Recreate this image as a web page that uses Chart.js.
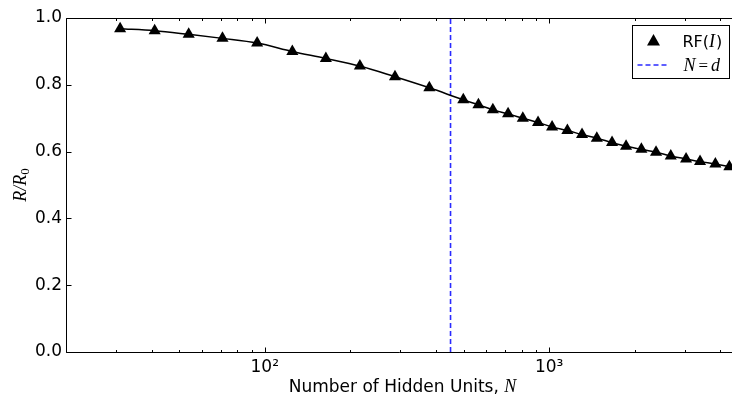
<!DOCTYPE html>
<html>
<head>
<meta charset="utf-8">
<script src="https://cdn.jsdelivr.net/npm/chart.js@4.4.1/dist/chart.umd.min.js"></script>
<style>
  html, body { margin: 0; padding: 0; background: #fff; overflow: hidden; }
  #wrap { width: 732px; height: 396px; }
</style>
</head>
<body>
<div id="wrap"><canvas id="chart" width="732" height="396"></canvas></div>
<script>
// values
const hiddenUnits = [31, 41, 54, 71, 94, 125, 164, 216, 287, 379,
  499, 564, 634, 717, 808, 914, 1024, 1159, 1305, 1471,
  1664, 1864, 2110, 2376, 2677, 3030, 3393, 3841, 4302];
const rfRatio = [0.968, 0.962, 0.951, 0.939, 0.925, 0.900, 0.879, 0.856, 0.824, 0.791,
  0.755, 0.740, 0.725, 0.713, 0.700, 0.687, 0.674, 0.663, 0.651, 0.640,
  0.627, 0.616, 0.607, 0.598, 0.587, 0.578, 0.570, 0.563, 0.555];
const inputDim = 450;
const xTickValues = [20, 30, 40, 50, 60, 70, 80, 90, 100, 200, 300, 400, 500, 600, 700, 800, 900, 1000, 2000, 3000, 4000];
const xMajor = [100, 1000];
const xTickLabels = { 100: '10\u00b2', 1000: '10\u00b3' };
const yTickValues = [0, 0.2, 0.4, 0.6, 0.8, 1.0];

const sans = "'DejaVu Sans', sans-serif";
const serifIt = "italic 18px 'Liberation Serif', 'DejaVu Serif', serif";
const serifUp = "'Liberation Serif', 'DejaVu Serif', serif";

function pts(xs, ys) {
  return xs.map((v, i) => ({ x: v, y: ys[i] }));
}

// spines, inward ticks, axis titles and the legend box
const frame = {
  id: 'frame',
  afterDatasetsDraw(chart) {
    const ctx = chart.ctx, a = chart.chartArea;
    const x = chart.scales.x, y = chart.scales.y;
    const L = Math.floor(a.left) + 0.5, R = chart.width + 2;
    const T = Math.floor(a.top) + 0.5, B = Math.floor(a.bottom) + 0.5;
    ctx.save();
    ctx.strokeStyle = '#000';
    ctx.lineWidth = 1;
    ctx.beginPath();
    ctx.moveTo(R, T); ctx.lineTo(L, T); ctx.lineTo(L, B); ctx.lineTo(R, B);
    xTickValues.forEach(v => {
      const px = Math.round(x.getPixelForValue(v)) + 0.5;
      const len = xMajor.includes(v) ? 5 : 2.5;
      ctx.moveTo(px, B); ctx.lineTo(px, B - len);
      ctx.moveTo(px, T); ctx.lineTo(px, T + len);
    });
    yTickValues.forEach(v => {
      const py = Math.round(y.getPixelForValue(v)) + 0.5;
      ctx.moveTo(L, py); ctx.lineTo(L + 5, py);
    });
    ctx.stroke();

    // x title (the original axes run a few pixels past the cropped edge)
    ctx.fillStyle = '#000';
    ctx.textBaseline = 'alphabetic';
    ctx.textAlign = 'left';
    const t1 = 'Number of Hidden Units, ';
    ctx.font = '17px ' + sans;
    const w1 = ctx.measureText(t1).width;
    ctx.font = serifIt;
    const w2 = ctx.measureText('N').width;
    const sx = (a.left + a.right + 7) / 2 - (w1 + w2) / 2;
    ctx.font = '17px ' + sans;
    ctx.fillText(t1, sx, 392);
    ctx.font = serifIt;
    ctx.fillText('N', sx + w1, 392);

    // y title
    ctx.save();
    ctx.translate(26, (a.top + a.bottom) / 2);
    ctx.rotate(-Math.PI / 2);
    ctx.font = serifIt;
    const wr = ctx.measureText('R/R').width;
    ctx.font = '13px ' + serifUp;
    const ws = ctx.measureText('0').width;
    const ty = -(wr + ws) / 2;
    ctx.font = serifIt;
    ctx.fillText('R/R', ty, 0);
    ctx.font = '13px ' + serifUp;
    ctx.fillText('0', ty + wr, 3);
    ctx.restore();

    // legend
    const bx = Math.floor(a.right) - 100 + 0.5, by = Math.floor(a.top) + 7 + 0.5;
    const bw = 97, bh = 53;
    ctx.fillStyle = '#fff';
    ctx.fillRect(bx, by, bw, bh);
    ctx.strokeStyle = '#000';
    ctx.strokeRect(bx, by, bw, bh);
    const mx = bx + 21, my = by + 15;
    ctx.fillStyle = '#000';
    ctx.beginPath();
    ctx.moveTo(mx, my - 6.5); ctx.lineTo(mx + 6.5, my + 5); ctx.lineTo(mx - 6.5, my + 5); ctx.closePath();
    ctx.fill();
    ctx.strokeStyle = '#2a2aff';
    ctx.lineWidth = 1.6;
    ctx.setLineDash([5, 3]);
    ctx.beginPath();
    ctx.moveTo(bx + 5, by + 39.5); ctx.lineTo(bx + 37, by + 39.5);
    ctx.stroke();
    ctx.setLineDash([]);
    ctx.fillStyle = '#000';
    let tx = bx + 50;
    ctx.font = '16px ' + sans;
    ctx.fillText('RF(', tx, by + 21);
    tx += ctx.measureText('RF(').width;
    ctx.font = serifIt;
    ctx.fillText('I', tx, by + 21);
    tx += ctx.measureText('I').width + 1;
    ctx.font = '16px ' + sans;
    ctx.fillText(')', tx, by + 21);
    tx = bx + 51;
    ctx.font = serifIt;
    ctx.fillText('N', tx, by + 45);
    tx += ctx.measureText('N').width + 3;
    ctx.font = '17px ' + serifUp;
    ctx.fillText('=', tx, by + 45);
    tx += ctx.measureText('=').width + 3;
    ctx.font = serifIt;
    ctx.fillText('d', tx, by + 45);
    ctx.restore();
  }
};

new Chart(document.getElementById('chart'), {
  type: 'scatter',
  data: {
    datasets: [
      {
        label: 'curve',
        data: pts(hiddenUnits, rfRatio),
        showLine: true,
        borderColor: '#000',
        borderWidth: 1.5,
        cubicInterpolationMode: 'monotone',
        pointRadius: 0,
        order: 2
      },
      {
        label: 'RF(I)',
        data: pts(hiddenUnits, rfRatio),
        showLine: false,
        pointStyle: 'triangle',
        pointRadius: 7,
        backgroundColor: '#000',
        borderColor: '#000',
        borderWidth: 0,
        order: 1
      },
      {
        label: 'N=d',
        data: [{ x: inputDim, y: 0 }, { x: inputDim, y: 1 }],
        showLine: true,
        borderColor: '#2a2aff',
        borderWidth: 1.6,
        borderDash: [5, 3],
        pointRadius: 0,
        order: 3
      }
    ]
  },
  options: {
    responsive: false,
    animation: false,
    devicePixelRatio: 1,
    layout: { autoPadding: false, padding: { top: 18, right: 0, left: 0, bottom: 0 } },
    plugins: { legend: { display: false }, tooltip: { enabled: false } },
    scales: {
      x: {
        type: 'logarithmic',
        min: 20,
        max: 4395,
        grid: { display: false, drawTicks: false },
        border: { display: false },
        afterBuildTicks: s => { s.ticks = xTickValues.map(v => ({ value: v })); },
        afterFit: s => { s.height = 44; },
        ticks: {
          autoSkip: false,
          maxRotation: 0,
          padding: 5,
          color: '#000',
          font: { family: sans, size: 17 },
          callback: v => xTickLabels[v] || ''
        }
      },
      y: {
        min: 0,
        max: 1,
        grid: { display: false, drawTicks: false },
        border: { display: false },
        afterBuildTicks: s => { s.ticks = yTickValues.map(v => ({ value: v })); },
        afterFit: s => { s.width = 66; },
        ticks: {
          padding: 4,
          color: '#000',
          font: { family: sans, size: 17 },
          callback: v => v.toFixed(1)
        }
      }
    }
  },
  plugins: [frame]
});
</script>
</body>
</html>
